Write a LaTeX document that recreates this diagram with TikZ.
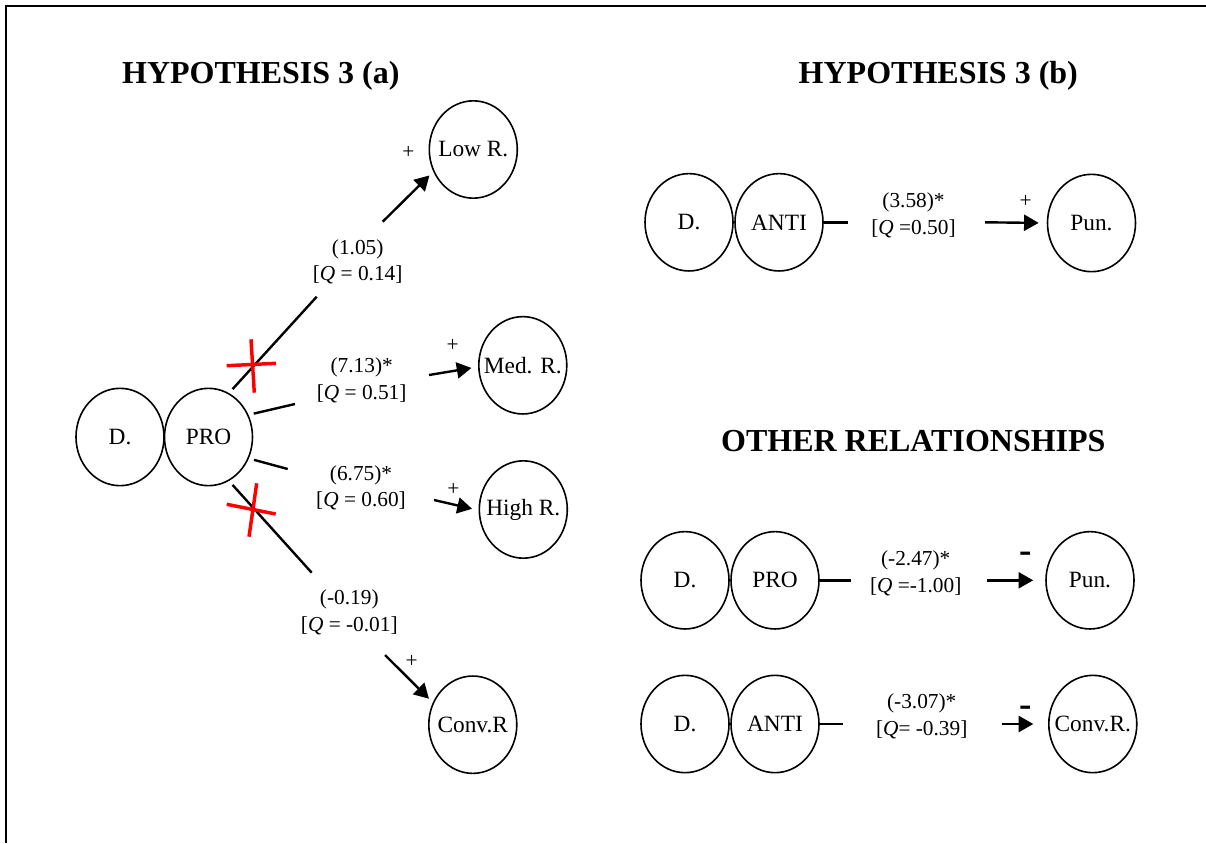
\documentclass[tikz,border=0pt]{standalone}
\usepackage{fontspec}
\setmainfont{Liberation Serif}
\usetikzlibrary{arrows.meta,shapes.geometric}
\newcommand{\vt}[1]{\makebox[0pt]{#1}}
\begin{document}
\begin{tikzpicture}[x=0.75pt,y=-0.75pt,
  var/.style={ellipse,draw,line width=1.2pt,minimum width=66pt,minimum height=73pt,inner sep=0pt,font=\fontsize{17.5}{20}\selectfont},
  lbl/.style={align=center,font=\fontsize{16}{20}\selectfont,inner sep=0pt},
  ttl/.style={anchor=base,inner sep=0pt,font=\fontsize{24}{28}\selectfont\bfseries},
  link/.style={line width=1.8pt},
  arr/.style={line width=1.8pt,-{Triangle[length=11pt,width=12pt]}},
  cross/.style={red,line width=2.6pt},
  sign/.style={inner sep=0pt,font=\fontsize{16}{20}\selectfont},
  minus/.style={inner sep=0pt,font=\fontsize{28}{30}\selectfont\bfseries}]
\useasboundingbox (0,0) rectangle (1206,843);
% frame (top and left edges visible)
\draw[line width=1.5pt] (6,843) -- (6,6) -- (1206,6);

% titles
\node[ttl] (t1) at (260.8,83) {HYPOTHESIS 3 (a)};
\node[ttl] (t2) at (938.3,83) {HYPOTHESIS 3 (b)};
\node[ttl] (t3) at (913.3,451.7) {OTHER RELATIONSHIPS};

% ---------- left part ----------
\node[var] (D1) at (120,437) {\vt{D.}};
\node[var] (P1) at (208.5,437) {\vt{PRO}};
\node[var] (LowR) at (473.3,149.5) {\vt{Low R.}};
\node[var] (MedR) at (522.8,365.3) {\vt{Med. R.}};
\node[var] (HighR) at (523.3,509.5) {\vt{High R.}};
\node[var] (ConvL) at (472.8,724.7) {\vt{Conv.R}};

\coordinate (l1) at (316.7,296.7);
\coordinate (a1) at (382.7,221.7);
\coordinate (l2) at (295,404);
\coordinate (a2) at (429,375);
\coordinate (l3) at (287.7,469);
\coordinate (a3) at (434,500);
\coordinate (l4) at (311.7,572.7);
\coordinate (a4) at (385,655);

\draw[link,shorten <=4pt] (P1.65) -- (l1);
\draw[arr,shorten >=4pt] (a1) -- (LowR.209);
\draw[link,shorten <=4pt] (P1.29) -- (l2);
\draw[arr,shorten >=5pt] (a2) -- (MedR.182);
\draw[link,shorten <=4pt] (P1.-28) -- (l3);
\draw[arr,shorten >=5pt] (a3) -- (HighR.181);
\draw[link,shorten <=4pt] (P1.-65) -- (l4);
\draw[arr,shorten >=4pt] (a4) -- (ConvL.151);

\node[lbl] (q1) at (357.7,261.7) {(1.05)\\{[}\textit{Q} = 0.14{]}};
\node[lbl] (q2) at (361.7,380) {(7.13)*\\{[}\textit{Q} = 0.51{]}};
\node[lbl] (q3) at (361,487.8) {(6.75)*\\{[}\textit{Q} = 0.60{]}};
\node[lbl] (q4) at (349.3,612.5) {(-0.19)\\{[}\textit{Q} = -0.01{]}};

\node[sign] (s1) at (408.3,152.3) {+};
\node[sign] (s2) at (452.7,345) {+};
\node[sign] (s3) at (453.3,489.3) {+};
\node[sign] (s4) at (411.7,661.7) {+};

% red crosses
\coordinate (x1a) at (226.7,365.7);
\coordinate (x1b) at (276,363.3);
\coordinate (x1c) at (251,339.3);
\coordinate (x1d) at (254.3,392.7);
\draw[cross] (x1a) -- (x1b);
\draw[cross] (x1c) -- (x1d);
\coordinate (x2a) at (226.7,504.3);
\coordinate (x2b) at (275.7,514);
\coordinate (x2c) at (256.7,483.3);
\coordinate (x2d) at (249,536.7);
\draw[cross] (x2a) -- (x2b);
\draw[cross] (x2c) -- (x2d);

% ---------- right top ----------
\node[var] (D2) at (689,222.3) {\vt{D.}};
\node[var] (A2) at (779,222.3) {\vt{ANTI}};
\node[var] (Pun1) at (1091.5,223) {\vt{Pun.}};
\coordinate (r1) at (848.3,222.3);
\coordinate (b1) at (985,222.3);
\draw[link] (A2.east) -- (r1);
\draw[arr,shorten >=6pt] (b1) -- (Pun1.west);
\node[lbl] (q5) at (913.5,215.3) {(3.58)*\\{[}\textit{Q} =0.50{]}};
\node[sign] (s5) at (1025.7,201.7) {+};

% ---------- right bottom ----------
\node[var] (D3) at (685,580.3) {\vt{D.}};
\node[var] (P3) at (775,580.3) {\vt{PRO}};
\node[var] (Pun2) at (1090,580.3) {\vt{Pun.}};
\coordinate (r2) at (850.7,580.3);
\coordinate (b2) at (986.7,580.3);
\draw[link] (P3.east) -- (r2);
\draw[arr,shorten >=9pt] (b2) -- (Pun2.west);
\node[lbl] (q6) at (915.7,573) {(-2.47)*\\{[}\textit{Q} =-1.00{]}};
\node[minus] (m1) at (1026,557) {-};

\node[var] (D4) at (685,724) {\vt{D.}};
\node[var] (A4) at (775,724) {\vt{ANTI}};
\node[var] (Conv2) at (1092.8,724) {\vt{Conv.R.}};
\coordinate (r3) at (842.7,724);
\coordinate (b3) at (1001.7,724);
\draw[link] (A4.east) -- (r3);
\draw[arr,shorten >=11pt] (b3) -- (Conv2.west);
\node[lbl] (q7) at (921.7,716.3) {(-3.07)*\\{[}\textit{Q}= -0.39{]}};
\node[minus] (m2) at (1026,711.5) {-};
\end{tikzpicture}
\end{document}
